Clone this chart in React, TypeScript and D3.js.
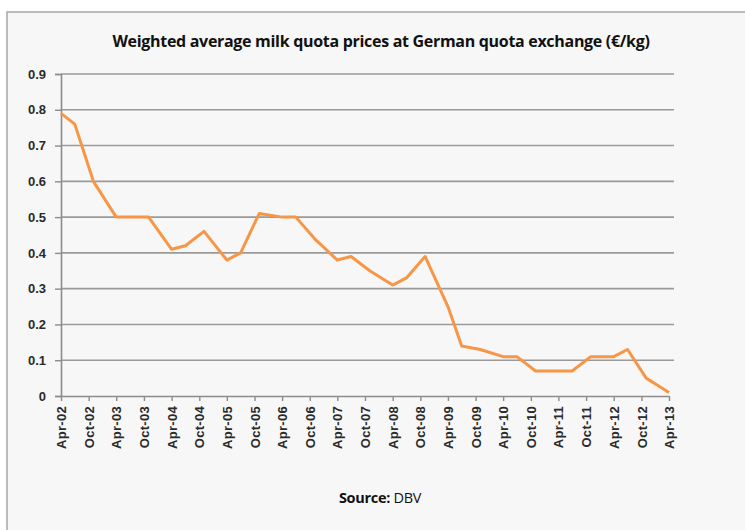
import React, { useEffect, useRef } from 'react';
import * as d3 from 'd3';

// exchange dates (April, July, November) and prices in €/kg
const dates = [
  '2002-04', '2002-07', '2002-11', '2003-04', '2003-07', '2003-11',
  '2004-04', '2004-07', '2004-11', '2005-04', '2005-07', '2005-11',
  '2006-04', '2006-07', '2006-11', '2007-04', '2007-07', '2007-11',
  '2008-04', '2008-07', '2008-11', '2009-04', '2009-07', '2009-11',
  '2010-04', '2010-07', '2010-11', '2011-04', '2011-07', '2011-11',
  '2012-04', '2012-07', '2012-11', '2013-04',
];
const prices = [
  0.79, 0.76, 0.60, 0.50, 0.50, 0.50,
  0.41, 0.42, 0.46, 0.38, 0.40, 0.51,
  0.50, 0.50, 0.44, 0.38, 0.39, 0.35,
  0.31, 0.33, 0.39, 0.25, 0.14, 0.13,
  0.11, 0.11, 0.07, 0.07, 0.07, 0.11,
  0.11, 0.13, 0.05, 0.01,
];
const yTicks = [0, 0.1, 0.2, 0.3, 0.4, 0.5, 0.6, 0.7, 0.8, 0.9];
const title = 'Weighted average milk quota prices at German quota exchange (€/kg)';

function App() {
  const ref = useRef<SVGSVGElement>(null);

  useEffect(() => {
    const svg = d3.select(ref.current);
    svg.selectAll('*').remove();

    const W = 745, H = 530;
    const left = 61, right = 669, top = 74, bottom = 396;
    const parse = d3.timeParse('%Y-%m');
    const data = dates.map((d, i) => ({ date: parse(d) as Date, value: prices[i] }));
    const start = parse('2002-04') as Date;
    const end = parse('2013-04') as Date;

    // background + frame
    svg.append('rect').attr('width', W).attr('height', H).attr('fill', '#ffffff');
    svg.append('rect')
      .attr('x', 7).attr('y', 12).attr('width', W + 10).attr('height', H + 10)
      .attr('fill', '#f7f7f7').attr('stroke', '#a6a6a6').attr('stroke-width', 1.5);

    svg.append('text')
      .attr('x', 381).attr('y', 47)
      .attr('text-anchor', 'middle')
      .attr('font-family', 'Open Sans, sans-serif')
      .attr('font-weight', 'bold')
      .attr('font-size', 16)
      .attr('letter-spacing', -0.3)
      .attr('fill', '#111')
      .text(title);

    const x = d3.scaleTime().domain([start, end]).range([left, right]);
    const y = d3.scaleLinear().domain([0, 0.9]).range([bottom, top]);

    // gridlines
    svg.append('g')
      .selectAll('line')
      .data(yTicks.filter(t => t > 0))
      .enter().append('line')
      .attr('x1', left).attr('x2', 674)
      .attr('y1', d => y(d)).attr('y2', d => y(d))
      .attr('stroke', '#9a9a9a').attr('stroke-width', 1.6);

    // y axis
    const ya = svg.append('g')
      .attr('transform', `translate(${left},0)`)
      .call(d3.axisLeft(y).tickValues(yTicks).tickSize(6).tickPadding(9)
        .tickFormat(d => (+d === 0 ? '0' : (+d).toFixed(1))));
    ya.select('.domain').attr('stroke', '#8c8c8c').attr('stroke-width', 1.6);
    ya.selectAll('.tick line').attr('stroke', '#8c8c8c').attr('stroke-width', 1.4);
    ya.selectAll('.tick text')
      .attr('font-family', 'Liberation Sans, Arial, sans-serif')
      .attr('font-size', 13).attr('font-weight', 'bold').attr('fill', '#2a2a2a');

    // x axis: every six months from Apr-02
    const xTicks = d3.timeMonth.range(start, d3.timeMonth.offset(end, 1), 6);
    const xa = svg.append('g')
      .attr('transform', `translate(0,${bottom})`)
      .call(d3.axisBottom(x).tickValues(xTicks).tickSize(5).tickSizeOuter(0)
        .tickFormat(d => d3.timeFormat('%b-%y')(d as Date)));
    xa.select('.domain').attr('stroke', '#8c8c8c').attr('stroke-width', 1.6);
    xa.selectAll('.tick line').attr('stroke', '#8c8c8c').attr('stroke-width', 1.4);
    xa.selectAll('.tick text')
      .attr('font-family', 'Liberation Sans, Arial, sans-serif')
      .attr('font-size', 13).attr('font-weight', 'bold').attr('fill', '#2a2a2a')
      .attr('letter-spacing', 0.3)
      .attr('text-anchor', 'end')
      .attr('transform', 'rotate(-90)')
      .attr('x', -10).attr('y', 0).attr('dy', '0.35em');

    // series
    const line = d3.line<{ date: Date; value: number }>()
      .x(d => x(d.date))
      .y(d => y(d.value));
    svg.append('path')
      .datum(data)
      .attr('fill', 'none')
      .attr('stroke', '#f79646')
      .attr('stroke-width', 3)
      .attr('stroke-linejoin', 'round')
      .attr('d', line);

    const src = svg.append('text')
      .attr('x', 380).attr('y', 503)
      .attr('text-anchor', 'middle')
      .attr('font-family', 'Open Sans, sans-serif')
      .attr('font-size', 14.5)
      .attr('letter-spacing', -0.3)
      .attr('fill', '#111');
    src.append('tspan').attr('font-weight', 'bold').text('Source: ');
    src.append('tspan').text('DBV');
  }, []);

  return <svg ref={ref} width={745} height={530} style={{ position: 'absolute', left: 0, top: 0 }} />;
}

export default App;
